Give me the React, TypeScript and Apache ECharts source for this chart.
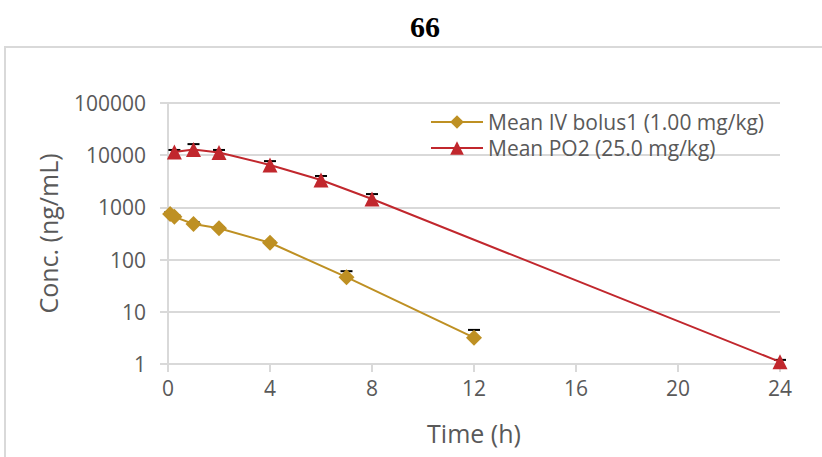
import React, { useEffect, useRef } from "react";
import * as echarts from "echarts";

const ivTime = [0.083, 0.25, 1, 2, 4, 7, 12];
const ivMean = [750, 660, 480, 400, 210, 46, 3.2];
const ivUpper = [800, 700, 525, 420, 220, 60, 4.5];

const poTime = [0.25, 1, 2, 4, 6, 8, 24];
const poMean = [11500, 12900, 11300, 6500, 3350, 1450, 1.1];
const poUpper = [12600, 16300, 12600, 7700, 4000, 1800, 1.2];

const ivName = "Mean IV bolus1 (1.00 mg/kg)";
const poName = "Mean PO2 (25.0 mg/kg)";
const xTicks = [0, 4, 8, 12, 16, 20, 24];

const FONT = "'Open Sans', 'Noto Sans', sans-serif";
const GOLD = "#BE9023";
const RED = "#C1272D";
const GREY_TXT = "#595959";
const GRID = "#d9d9d9";

function errData(t: number[], m: number[], u: number[]) {
  return t.map((x, i) => [x, m[i], u[i]]);
}

const errRender = (params: any, api: any) => {
  const x = api.value(0);
  const lo = api.coord([x, api.value(1)]);
  const hi = api.coord([x, api.value(2)]);
  const hw = 6;
  return {
    type: "group",
    children: [
      {
        type: "line",
        shape: { x1: lo[0], y1: lo[1], x2: hi[0], y2: hi[1] },
        style: { stroke: "#000", lineWidth: 1.5 },
      },
      {
        type: "line",
        shape: { x1: hi[0] - hw, y1: hi[1], x2: hi[0] + hw, y2: hi[1] },
        style: { stroke: "#000", lineWidth: 2 },
      },
    ],
  };
};

export default function App() {
  const ref = useRef<HTMLDivElement>(null);
  useEffect(() => {
    if (!ref.current) return;
    const chart = echarts.init(ref.current, undefined, { renderer: "svg" });
    chart.setOption({
      animation: false,
      backgroundColor: "#fff",
      graphic: [
        {
          type: "rect",
          shape: { x: 5, y: 47, width: 840, height: 440 },
          style: { fill: "none", stroke: GRID, lineWidth: 2 },
          z: -1,
        },
        {
          type: "text",
          x: 425,
          y: 26,
          style: {
            text: "66",
            font: "bold 30px 'Liberation Serif', serif",
            fill: "#000",
            align: "center",
            verticalAlign: "middle",
          },
        },
      ],
      legend: {
        orient: "vertical",
        left: 425,
        top: 106,
        itemWidth: 52,
        itemHeight: 17,
        itemGap: 4,
        textStyle: {
          fontFamily: FONT,
          fontSize: 21,
          lineHeight: 22,
          color: GREY_TXT,
          padding: [0, 0, 0, 0],
        },
        data: [ivName, poName],
      },
      grid: { left: 168, right: 42, top: 103, bottom: 93 },
      xAxis: {
        type: "value",
        min: 0,
        max: 24,
        interval: 4,
        name: "Time (h)",
        nameLocation: "middle",
        nameGap: 56,
        nameTextStyle: { fontFamily: FONT, fontSize: 25, color: GREY_TXT },
        axisLine: { show: true, onZero: false, lineStyle: { color: GRID, width: 2 } },
        axisTick: { show: true, length: 8, lineStyle: { color: GRID, width: 2 } },
        axisLabel: {
          fontFamily: FONT,
          fontSize: 21,
          color: GREY_TXT,
          margin: 13,
          customValues: xTicks,
        },
        splitLine: { show: false },
      },
      yAxis: {
        type: "log",
        logBase: 10,
        min: 1,
        max: 100000,
        name: "Conc. (ng/mL)",
        nameLocation: "middle",
        nameGap: 108,
        nameTextStyle: { fontFamily: FONT, fontSize: 25, color: GREY_TXT },
        axisLine: { show: true, lineStyle: { color: GRID, width: 2 } },
        axisTick: { show: true, length: 8, lineStyle: { color: GRID, width: 2 } },
        axisLabel: {
          fontFamily: FONT,
          fontSize: 21,
          color: GREY_TXT,
          margin: 22,
          formatter: (v: number) => String(Math.round(v)),
        },
        splitLine: { show: true, lineStyle: { color: GRID, width: 2 } },
      },
      series: [
        {
          name: ivName,
          type: "line",
          data: ivTime.map((t, i) => [t, ivMean[i]]),
          symbol: "diamond",
          symbolSize: 16,
          color: GOLD,
          lineStyle: { color: GOLD, width: 2 },
          itemStyle: { color: GOLD },
          z: 3,
        },
        {
          name: poName,
          type: "line",
          data: poTime.map((t, i) => [t, poMean[i]]),
          symbol: "triangle",
          symbolSize: 15,
          color: RED,
          lineStyle: { color: RED, width: 2 },
          itemStyle: { color: RED },
          z: 3,
        },
        {
          type: "custom",
          renderItem: errRender,
          data: errData(ivTime, ivMean, ivUpper),
          z: 2,
          silent: true,
        },
        {
          type: "custom",
          renderItem: errRender,
          data: errData(poTime, poMean, poUpper),
          z: 2,
          silent: true,
        },
      ],
    });
    return () => chart.dispose();
  }, []);
  return (
    <div
      ref={ref}
      style={{ position: "fixed", left: 0, top: 0, width: 822, height: 457 }}
    />
  );
}
